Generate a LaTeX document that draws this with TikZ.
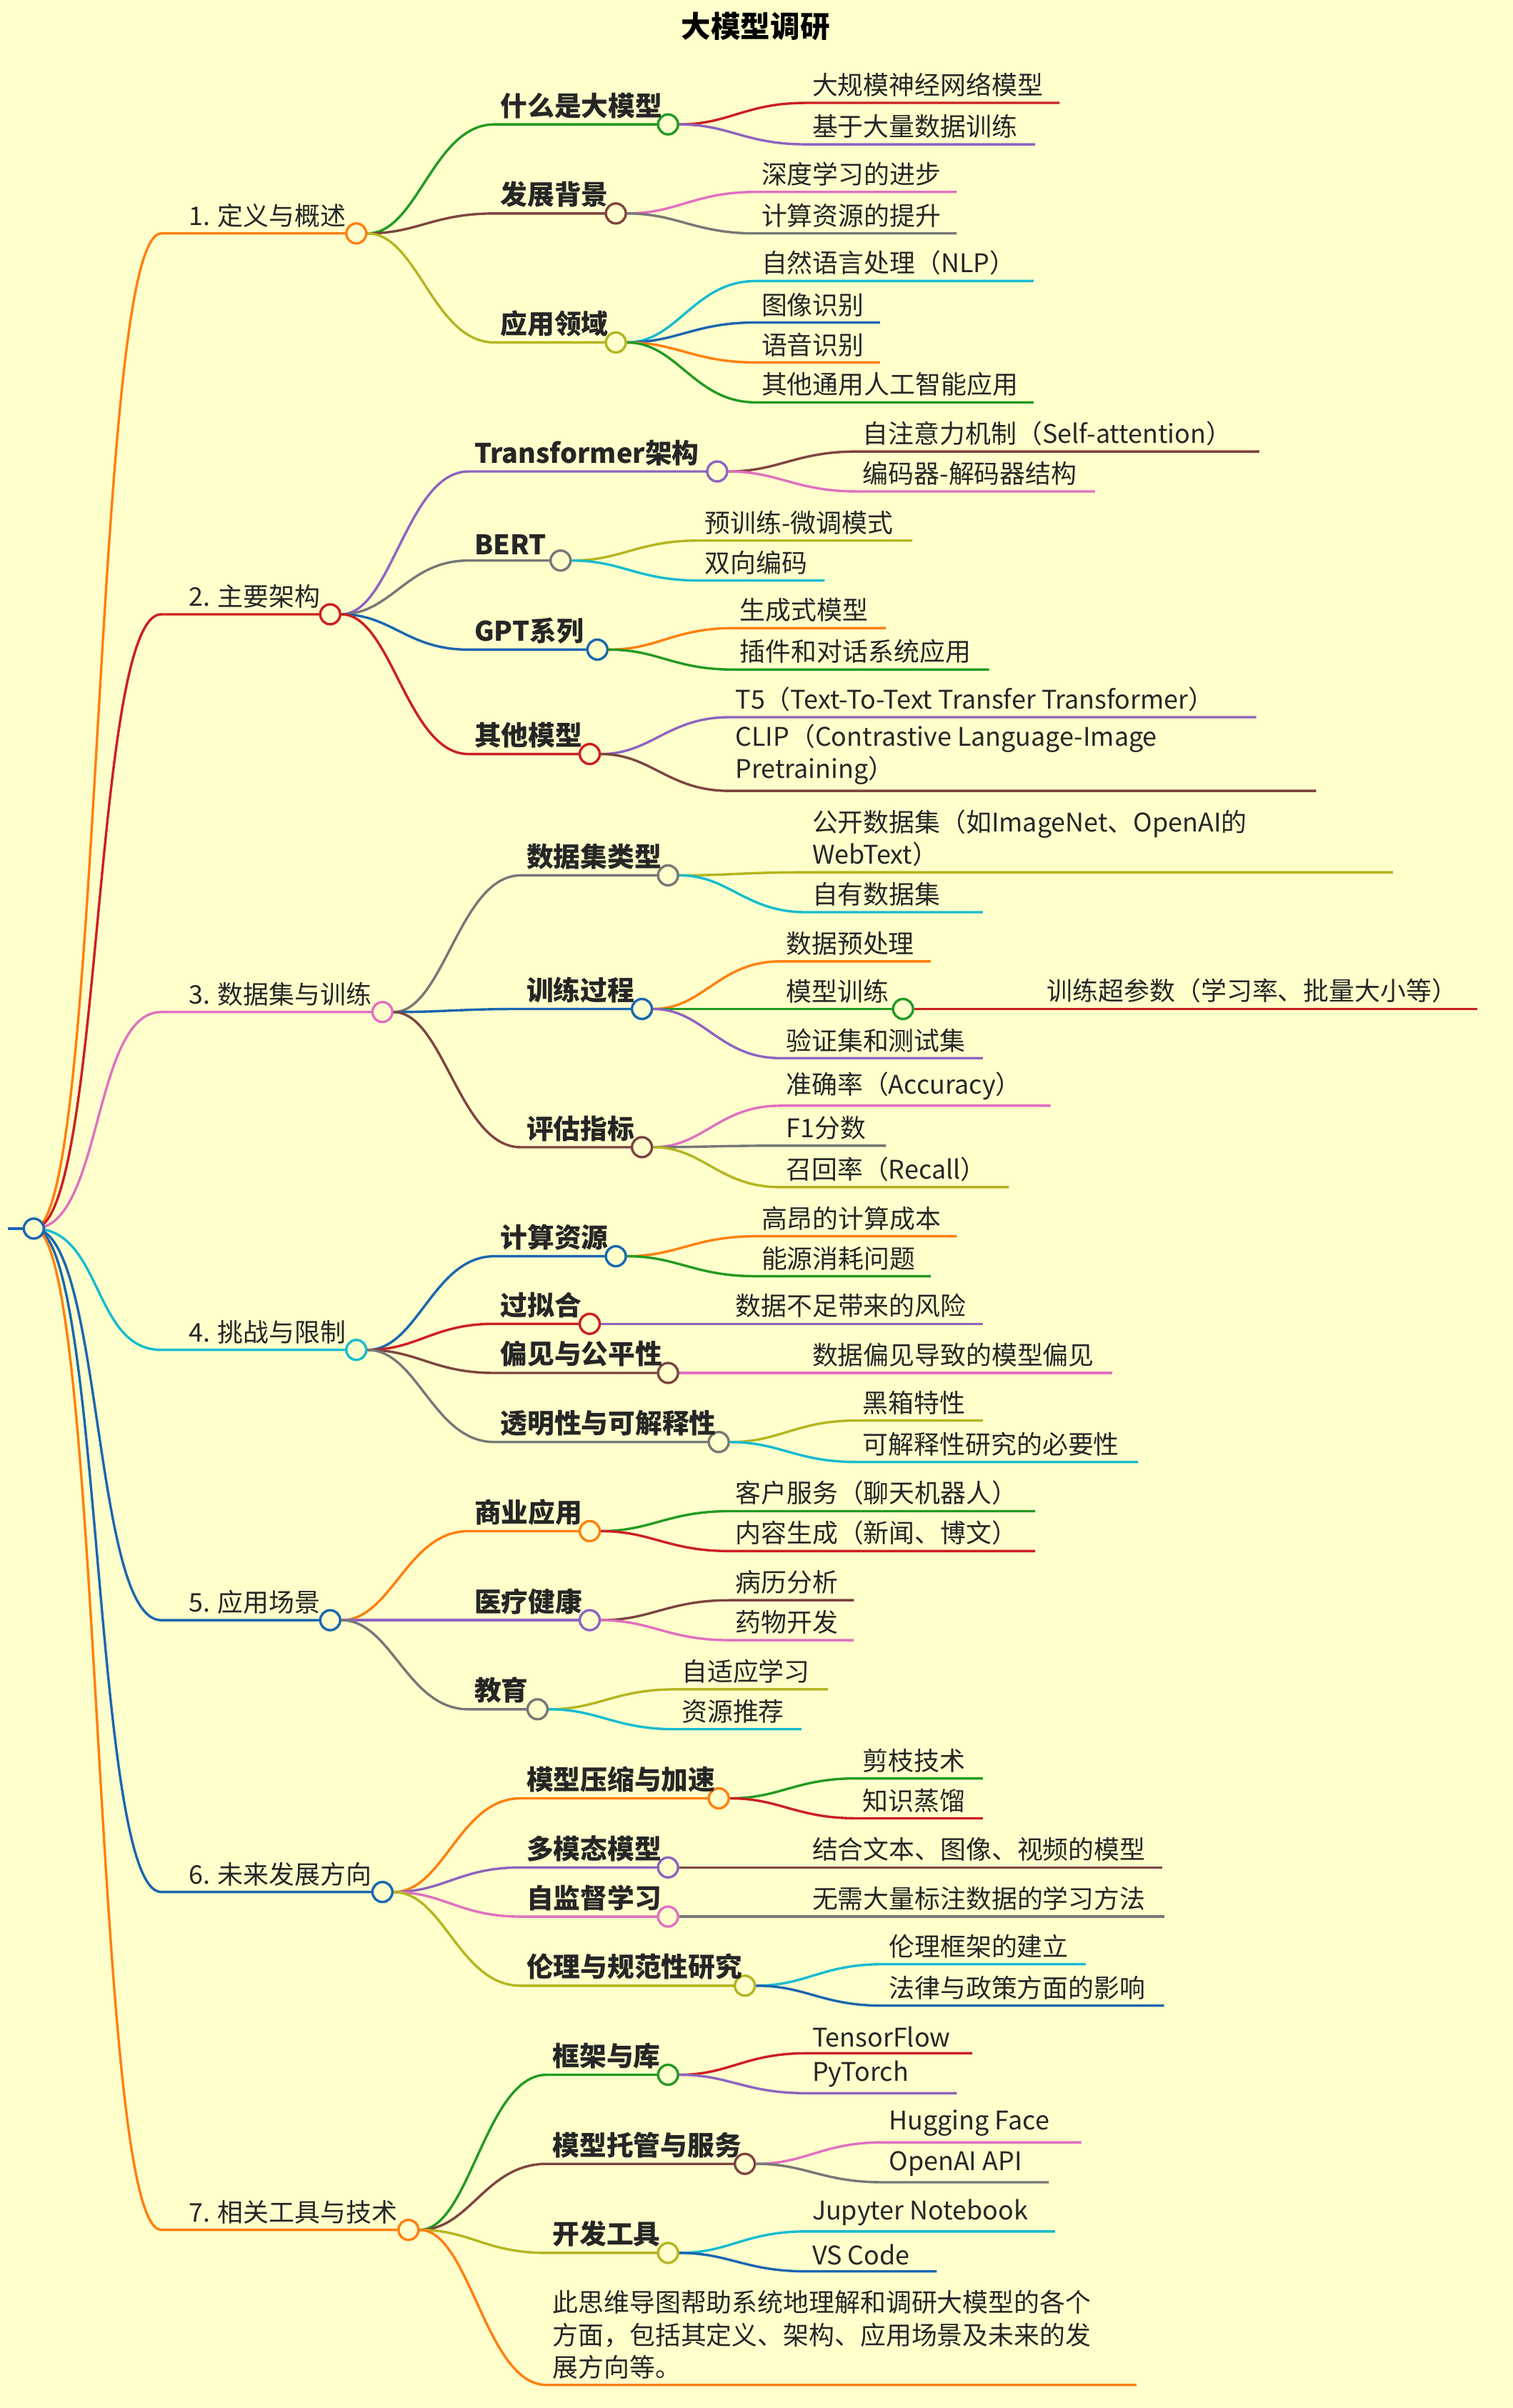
\documentclass[tikz,border=0pt]{standalone}
\usepackage{fontspec}
\setmainfont{Noto Sans CJK SC}
\usetikzlibrary{positioning}

\definecolor{bg}{HTML}{FFFFCC}
\definecolor{cOrange}{HTML}{FF7F0E}
\definecolor{cRed}{HTML}{CC1F1F}
\definecolor{cGreen}{HTML}{239A23}
\definecolor{cPurple}{HTML}{8E63C0}
\definecolor{cBrown}{HTML}{7D4540}
\definecolor{cPink}{HTML}{E070C0}
\definecolor{cGray}{HTML}{777777}
\definecolor{cOlive}{HTML}{B5B520}
\definecolor{cCyan}{HTML}{17BBD0}
\definecolor{cBlue}{HTML}{1A66B0}

% level 1 and level 2 nodes: underlined text ending in a circle
\newcommand{\topic}[7]{%
  \coordinate (#2s) at (#3,-#4);
  \draw[link,#6] (#1) .. controls +(45,0) and +(-45,0) .. (#2s) -- (#5,-#4);
  \node[dot,draw=#6] (#2) at (#5,-#4) {};
  \node[label text,xshift=8pt] at (#2s) {#7};}
\newcommand{\subtopic}[7]{%
  \coordinate (#2s) at (#3,-#4);
  \draw[link,#6] (#1) .. controls +(40,0) and +(-40,0) .. (#2s) -- (#5,-#4);
  \node[dot,draw=#6] (#2) at (#5,-#4) {};
  \node[label text,font=\bfseries] at (#2s) {#7};}
% leaves: underlined text with a free end
\newcommand{\leaf}[7]{%
  \coordinate (#2s) at (#3,-#4);
  \coordinate (#2) at (#5,-#4);
  \draw[link,#6] (#1) .. controls +(40,0) and +(-40,0) .. (#2s) -- (#2);
  \node[label text] at (#2s) {#7};}

\begin{document}
\begin{tikzpicture}[x=0.02cm,y=0.02cm,
  link/.style={line width=0.9pt},
  dot/.style={circle,fill=bg,line width=0.9pt,minimum size=0.26cm,inner sep=0pt},
  label text/.style={anchor=south west,align=left,inner sep=2pt,text=black!85,
    font=\fontsize{9.5}{12}\selectfont}]

 \fill[bg] (0,0) rectangle (985,-1568);
 \useasboundingbox (0,0) rectangle (985,-1568);

 \node[font=\fontsize{11}{13}\selectfont\bfseries] (title) at (492,-17) {大模型调研};

 \coordinate (stub) at (5,-800);
 \coordinate (rootc) at (22,-800);

 % 1
 \topic{rootc}{a}{105}{152}{232}{cOrange}{1. 定义与概述}
 \subtopic{a}{a1}{322}{81}{435}{cGreen}{什么是大模型}
 \leaf{a1}{a11}{525}{67}{690}{cRed}{大规模神经网络模型}
 \leaf{a1}{a12}{525}{94}{674}{cPurple}{基于大量数据训练}
 \subtopic{a}{a2}{322}{139}{401}{cBrown}{发展背景}
 \leaf{a2}{a21}{492}{125}{623}{cPink}{深度学习的进步}
 \leaf{a2}{a22}{492}{152}{623}{cGray}{计算资源的提升}
 \subtopic{a}{a3}{322}{223}{401}{cOlive}{应用领域}
 \leaf{a3}{a31}{492}{183}{673}{cCyan}{自然语言处理（NLP）}
 \leaf{a3}{a32}{492}{210}{573}{cBlue}{图像识别}
 \leaf{a3}{a33}{492}{236}{573}{cOrange}{语音识别}
 \leaf{a3}{a34}{492}{262}{673}{cGreen}{其他通用人工智能应用}

 % 2
 \topic{rootc}{b}{105}{400}{215}{cRed}{2. 主要架构}
 \subtopic{b}{b1}{305}{307}{467}{cPurple}{Transformer架构}
 \leaf{b1}{b11}{558}{294}{820}{cBrown}{自注意力机制（Self-attention）}
 \leaf{b1}{b12}{558}{320}{713}{cPink}{编码器-解码器结构}
 \subtopic{b}{b2}{305}{365}{365}{cGray}{BERT}
 \leaf{b2}{b21}{455}{352}{594}{cOlive}{预训练-微调模式}
 \leaf{b2}{b22}{455}{378}{537}{cCyan}{双向编码}
 \subtopic{b}{b3}{305}{423}{389}{cBlue}{GPT系列}
 \leaf{b3}{b31}{478}{409}{577}{cOrange}{生成式模型}
 \leaf{b3}{b32}{478}{436}{644}{cGreen}{插件和对话系统应用}
 \subtopic{b}{b4}{305}{491}{384}{cRed}{其他模型}
 \leaf{b4}{b41}{475}{467}{818}{cPurple}{T5（Text-To-Text Transfer Transformer）}
 \leaf{b4}{b42}{475}{515}{857}{cBrown}{CLIP（Contrastive Language-Image\\Pretraining）}

 % 3
 \topic{rootc}{c}{105}{659}{249}{cPink}{3. 数据集与训练}
 \subtopic{c}{c1}{339}{570}{435}{cGray}{数据集类型}
 \leaf{c1}{c11}{525}{568}{907}{cOlive}{公开数据集（如ImageNet、OpenAI的\\WebText）}
 \leaf{c1}{c12}{525}{594}{640}{cCyan}{自有数据集}
 \subtopic{c}{c2}{339}{657}{418}{cBlue}{训练过程}
 \leaf{c2}{c21}{508}{626}{606}{cOrange}{数据预处理}
 \topic{c2}{c22}{508}{657}{588}{cGreen}{\hspace{-8pt}模型训练}
 \leaf{c22}{c221}{678}{657}{962}{cRed}{训练超参数（学习率、批量大小等）}
 \leaf{c2}{c23}{508}{689}{640}{cPurple}{验证集和测试集}
 \subtopic{c}{c3}{339}{747}{418}{cBrown}{评估指标}
 \leaf{c3}{c31}{508}{720}{684}{cPink}{准确率（Accuracy）}
 \leaf{c3}{c32}{508}{746}{577}{cGray}{F1分数}
 \leaf{c3}{c33}{508}{773}{657}{cOlive}{召回率（Recall）}

 % 4
 \topic{rootc}{d}{105}{879}{232}{cCyan}{4. 挑战与限制}
 \subtopic{d}{d1}{322}{818}{401}{cBlue}{计算资源}
 \leaf{d1}{d11}{492}{805}{623}{cOrange}{高昂的计算成本}
 \leaf{d1}{d12}{492}{831}{606}{cGreen}{能源消耗问题}
 \subtopic{d}{d2}{322}{862}{384}{cRed}{过拟合}
 \leaf{d2}{d21}{475}{862}{640}{cPurple}{数据不足带来的风险}
 \subtopic{d}{d3}{322}{894}{435}{cBrown}{偏见与公平性}
 \leaf{d3}{d31}{525}{894}{724}{cPink}{数据偏见导致的模型偏见}
 \subtopic{d}{d4}{322}{939}{468}{cGray}{透明性与可解释性}
 \leaf{d4}{d41}{558}{925}{640}{cOlive}{黑箱特性}
 \leaf{d4}{d42}{558}{952}{741}{cCyan}{可解释性研究的必要性}

 % 5
 \topic{rootc}{e}{105}{1055}{215}{cBlue}{5. 应用场景}
 \subtopic{e}{e1}{305}{997}{384}{cOrange}{商业应用}
 \leaf{e1}{e11}{475}{984}{674}{cGreen}{客户服务（聊天机器人）}
 \leaf{e1}{e12}{475}{1010}{674}{cRed}{内容生成（新闻、博文）}
 \subtopic{e}{e2}{305}{1055}{384}{cPurple}{医疗健康}
 \leaf{e2}{e21}{475}{1042}{556}{cBrown}{病历分析}
 \leaf{e2}{e22}{475}{1068}{556}{cPink}{药物开发}
 \subtopic{e}{e3}{305}{1113}{350}{cGray}{教育}
 \leaf{e3}{e31}{440}{1100}{539}{cOlive}{自适应学习}
 \leaf{e3}{e32}{440}{1126}{522}{cCyan}{资源推荐}

 % 6
 \topic{rootc}{f}{105}{1232}{249}{cBlue}{6. 未来发展方向}
 \subtopic{f}{f1}{339}{1171}{468}{cOrange}{模型压缩与加速}
 \leaf{f1}{f11}{558}{1158}{640}{cGreen}{剪枝技术}
 \leaf{f1}{f12}{558}{1184}{640}{cRed}{知识蒸馏}
 \subtopic{f}{f2}{339}{1216}{435}{cPurple}{多模态模型}
 \leaf{f2}{f21}{525}{1216}{757}{cBrown}{结合文本、图像、视频的模型}
 \subtopic{f}{f3}{339}{1248}{435}{cPink}{自监督学习}
 \leaf{f3}{f31}{525}{1248}{758}{cGray}{无需大量标注数据的学习方法}
 \subtopic{f}{f4}{339}{1293}{485}{cOlive}{伦理与规范性研究}
 \leaf{f4}{f41}{575}{1279}{707}{cCyan}{伦理框架的建立}
 \leaf{f4}{f42}{575}{1306}{758}{cBlue}{法律与政策方面的影响}

 % 7
 \topic{rootc}{g}{105}{1452}{266}{cOrange}{7. 相关工具与技术}
 \subtopic{g}{g1}{356}{1351}{435}{cGreen}{框架与库}
 \leaf{g1}{g11}{525}{1337}{633}{cRed}{TensorFlow}
 \leaf{g1}{g12}{525}{1363}{623}{cPurple}{PyTorch}
 \subtopic{g}{g2}{356}{1409}{485}{cBrown}{模型托管与服务}
 \leaf{g2}{g21}{575}{1395}{704}{cPink}{Hugging Face}
 \leaf{g2}{g22}{575}{1421}{683}{cGray}{OpenAI API}
 \subtopic{g}{g3}{356}{1467}{435}{cOlive}{开发工具}
 \leaf{g3}{g31}{525}{1453}{687}{cCyan}{Jupyter Notebook}
 \leaf{g3}{g32}{525}{1479}{610}{cBlue}{VS Code}
 \leaf{g}{g4}{356}{1553}{740}{cOrange}{此思维导图帮助系统地理解和调研大模型的各个\\方面，包括其定义、架构、应用场景及未来的发\\展方向等。}

 \node[dot,draw=cBlue] (root) at (rootc) {};
 \draw[link,cBlue] (stub) -- (root);

\end{tikzpicture}
\end{document}
